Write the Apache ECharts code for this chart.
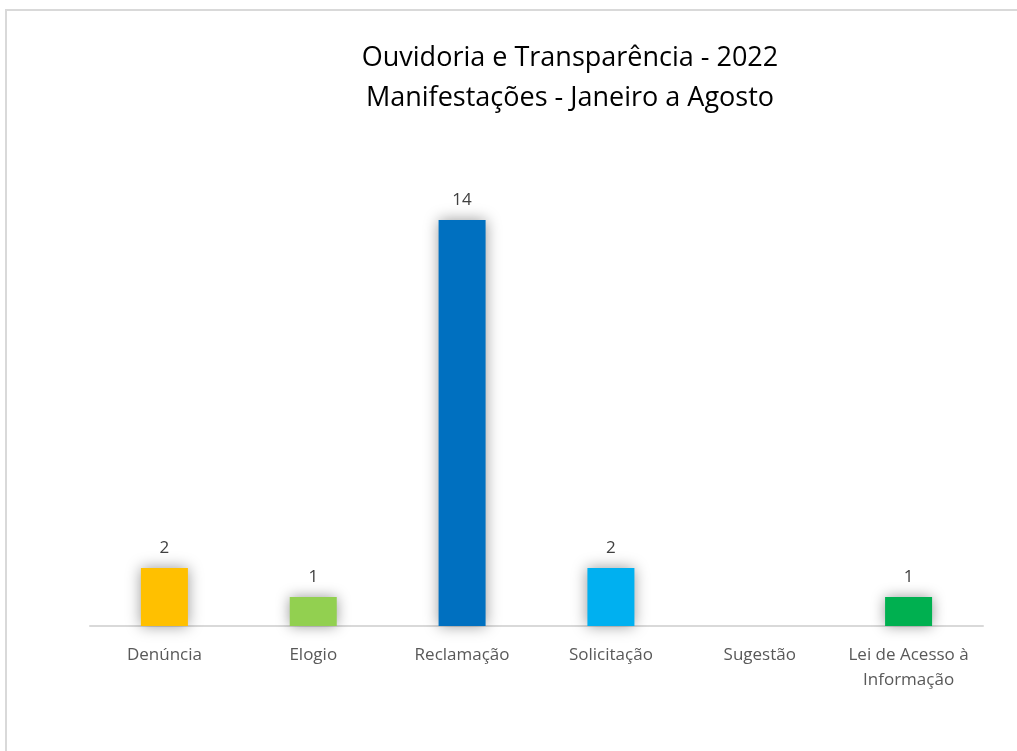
<!DOCTYPE html>
<html>
  <head>
    <meta charset="utf-8" />
    <title>Ouvidoria e Transparência - 2022</title>
    <script src="https://cdn.jsdelivr.net/npm/echarts@6/dist/echarts.min.js"></script>
    <style>
      body { margin: 0; background: #fff; }
    </style>
  </head>
  <body>
    <div id="main" style="width: 1017px; height: 751px;"></div>
    <script type="text/javascript">
      // dados
      const categorias = ["Denúncia", "Elogio", "Reclamação", "Solicitação", "Sugestão", "Lei de Acesso à\nInformação"];
      const valores = [2, 1, 14, 2, 0, 1];
      const cores = ["#FFC000", "#92D050", "#0070C0", "#00B0F0", "#7F7F7F", "#00B050"];

      const fonte = "'Open Sans', sans-serif";
      const myChart = echarts.init(document.getElementById("main"));

      const option = {
        backgroundColor: "#fff",
        animation: false,
        title: {
          text: "Ouvidoria e Transparência - 2022\nManifestações - Janeiro a Agosto",
          left: 565,
          top: 33,
          textAlign: "center",
          textStyle: {
            fontFamily: fonte,
            fontWeight: "normal",
            fontSize: 27,
            lineHeight: 40,
            color: "#000",
          },
        },
        graphic: [
          {
            type: "rect",
            shape: { x: 6, y: 10, width: 1030, height: 760 },
            style: { fill: "none", stroke: "#d9d9d9", lineWidth: 2 },
            silent: true,
          },
        ],
        grid: { left: 90, right: 34, top: 162, bottom: 125 },
        xAxis: {
          type: "category",
          data: categorias,
          axisLine: { lineStyle: { color: "#d9d9d9", width: 2 } },
          axisTick: { show: false },
          axisLabel: {
            interval: 0,
            margin: 17,
            fontFamily: fonte,
            fontSize: 17,
            lineHeight: 25,
            color: "#595959",
          },
        },
        yAxis: {
          type: "value",
          min: 0,
          max: 16,
          show: false,
          splitLine: { show: false },
        },
        series: [
          {
            type: "bar",
            barWidth: 47,
            data: valores.map((v, i) => ({
              value: v,
              itemStyle: { color: cores[i] },
            })),
            itemStyle: {
              shadowBlur: 14,
              shadowColor: "rgba(0,0,0,0.4)",
            },
            label: {
              show: true,
              position: "top",
              distance: 11,
              fontFamily: fonte,
              fontSize: 17,
              color: "#404040",
              formatter: p => (p.value === 0 ? "" : p.value),
            },
          },
        ],
      };
      myChart.setOption(option);
    </script>
  </body>
</html>
